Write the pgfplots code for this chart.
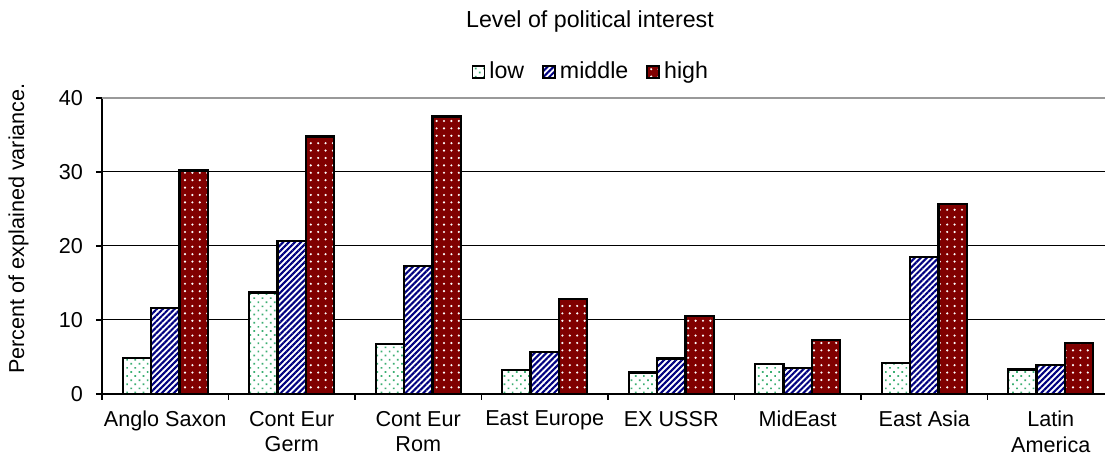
\documentclass[border=0pt]{standalone}
\usepackage{pgfplots}
\pgfplotsset{compat=1.18}
\usepackage{fontspec}
\setmainfont{Liberation Sans}
\usetikzlibrary{patterns.meta}

\definecolor{lowdot}{RGB}{60,175,115}
\definecolor{midblue}{RGB}{0,0,128}
\definecolor{highred}{RGB}{128,0,0}

\begin{document}
\begin{tikzpicture}[font=\fontsize{10.8}{12.8}\selectfont]
  \begin{axis}[
      name=ax,
      scale only axis,
      width=506pt, height=148pt,
      ybar=0pt, bar width=14.15pt,
      xmin=-0.5, xmax=7.5,
      ymin=0, ymax=40,
      ytick={0,10,...,40},
      ymajorgrids,
      grid style={black, line width=0.5pt},
      axis x line*=bottom, axis y line*=left,
      axis line style={black, line width=0.6pt, -},
      tick align=outside,
      major tick length=3pt,
      tick style={black, line width=0.6pt},
      yticklabel style={xshift=-3pt},
      xtick={-0.5,0.5,...,7.5},
      xticklabels={},
      extra x ticks={0,1,...,7},
      extra x tick labels={Anglo Saxon,{Cont Eur\\Germ},{Cont Eur\\Rom},East Europe,EX USSR,MidEast,East Asia,{Latin\\America}},
      extra x tick style={major tick length=0pt, xticklabel style={align=center, yshift=-5pt}},
      /pgf/number format/assume math mode=true,
      ylabel={Percent of explained variance.},
      every axis y label/.style={at={(axis description cs:-0.0825,0.559)}, rotate=90, anchor=center},
      legend columns=3,
      legend style={draw=none, fill=none, at={(axis description cs:0.484,1.088)}, anchor=center,
        font=\fontsize{11.6}{13.5}\selectfont,
        /tikz/every even column/.append style={column sep=7pt}},
      legend image code/.code={\draw[#1, line width=0.9pt] (0pt,-3pt) rectangle (6pt,3pt);},
    ]
    \addplot[draw=black, line width=1.15pt, fill=white,
      postaction={pattern={Dots[angle=45, distance=2.9pt, radius=0.6pt]}, pattern color=lowdot}]
      coordinates {(0,4.9) (1,13.7) (2,6.75) (3,3.2) (4,2.9) (5,4.1) (6,4.2) (7,3.3)};
    \addplot[draw=black, line width=1.15pt, fill=white,
      postaction={pattern={Lines[angle=45, distance=2.1pt, line width=1.05pt]}, pattern color=midblue}]
      coordinates {(0,11.6) (1,20.7) (2,17.3) (3,5.7) (4,4.8) (5,3.55) (6,18.5) (7,3.9)};
    \addplot[draw=black, line width=1.15pt, fill=highred,
      postaction={pattern={Dots[distance=3.7pt, radius=0.6pt]}, pattern color=white}]
      coordinates {(0,30.2) (1,34.8) (2,37.5) (3,12.8) (4,10.5) (5,7.25) (6,25.7) (7,6.85)};
    \legend{low,middle,high}
    \draw[gray!80, line width=1pt] (rel axis cs:0,1) -- (rel axis cs:1,1);
  \end{axis}
  \node[font=\fontsize{11.6}{13.5}\selectfont] at ([xshift=244pt,yshift=186pt]ax.south west) {Level of political interest};
  \pgfresetboundingbox
  \path[use as bounding box] ([xshift=-51pt,yshift=-30pt]ax.south west) rectangle ([xshift=501.5pt,yshift=197pt]ax.south west);
\end{tikzpicture}
\end{document}
